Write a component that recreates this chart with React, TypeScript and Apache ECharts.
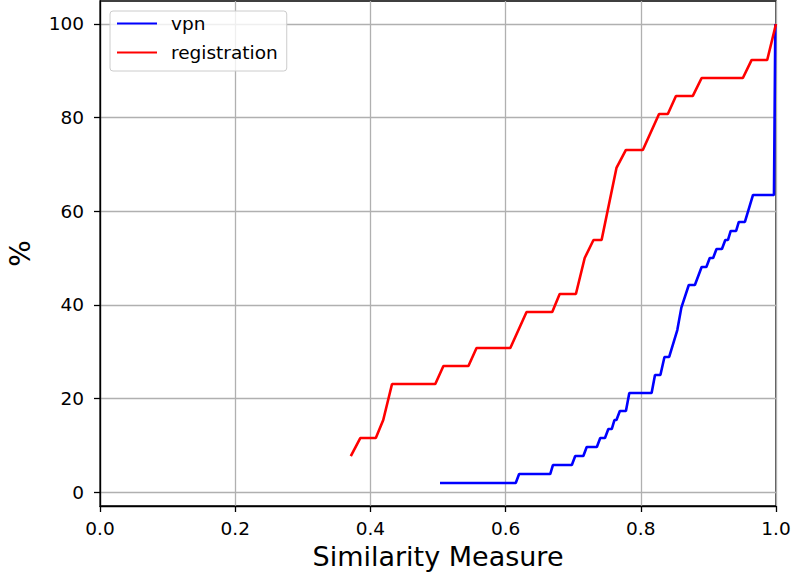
import React, { useEffect, useRef } from "react";
import * as echarts from "echarts";

const vpnX = [0.503, 0.615, 0.620, 0.666, 0.670, 0.698, 0.703, 0.715, 0.720, 0.735, 0.740, 0.747, 0.752, 0.757, 0.761, 0.764, 0.769, 0.778, 0.783, 0.816, 0.821, 0.829, 0.835, 0.842, 0.854, 0.860, 0.871, 0.880, 0.890, 0.897, 0.902, 0.907, 0.912, 0.920, 0.925, 0.929, 0.933, 0.941, 0.945, 0.954, 0.966, 0.997, 0.999];
const vpnY = [1.92, 1.92, 3.85, 3.85, 5.77, 5.77, 7.69, 7.69, 9.62, 9.62, 11.54, 11.54, 13.46, 13.46, 15.38, 15.38, 17.31, 17.31, 21.15, 21.15, 25.0, 25.0, 28.85, 28.85, 34.6, 39.4, 44.23, 44.23, 48.08, 48.08, 50.0, 50.0, 51.92, 51.92, 53.85, 53.85, 55.77, 55.77, 57.69, 57.69, 63.46, 63.46, 100];

const regX = [0.371, 0.385, 0.408, 0.419, 0.432, 0.496, 0.508, 0.545, 0.557, 0.607, 0.631, 0.669, 0.680, 0.704, 0.717, 0.730, 0.742, 0.764, 0.778, 0.803, 0.827, 0.840, 0.852, 0.877, 0.890, 0.951, 0.964, 0.987, 1.0];
const regY = [7.69, 11.54, 11.54, 15.38, 23.08, 23.08, 26.92, 26.92, 30.77, 30.77, 38.46, 38.46, 42.31, 42.31, 50.0, 53.85, 53.85, 69.23, 73.08, 73.08, 80.77, 80.77, 84.62, 84.62, 88.46, 88.46, 92.31, 92.31, 100];

const yTicks = [0, 20, 40, 60, 80, 100];
const seriesNames = ["vpn", "registration"];
const xTitle = "Similarity Measure";
const yTitle = "%";

const FONT = "DejaVu Sans";

export default function App() {
  const ref = useRef<HTMLDivElement>(null);
  useEffect(() => {
    if (!ref.current) return;
    const chart = echarts.init(ref.current, null, { renderer: "svg" });
    const zip = (xs: number[], ys: number[]) => xs.map((x, i) => [x, ys[i]]);
    chart.setOption({
      animation: false,
      backgroundColor: "#ffffff",
      grid: {
        left: 100,
        right: 15,
        top: 1,
        bottom: 67,
        outerBoundsMode: "none",
        containLabel: false,
        show: true,
        borderColor: "#000000",
        borderWidth: 1.3,
        backgroundColor: "transparent",
      },
      legend: {
        left: 110,
        top: 11,
        orient: "vertical",
        data: seriesNames,
        itemWidth: 40,
        itemHeight: 20,
        itemGap: 10,
        padding: [3, 9, 9, 6],
        borderColor: "#cccccc",
        borderWidth: 1,
        borderRadius: 3,
        backgroundColor: "rgba(255,255,255,0.8)",
        itemStyle: { opacity: 0 },
        textStyle: { fontFamily: FONT, fontSize: 18.5, color: "#000", padding: [0, 0, 0, 9] },
      },
      xAxis: {
        type: "value",
        min: 0,
        max: 1,
        interval: 0.2,
        name: xTitle,
        nameLocation: "middle",
        nameGap: 36,
        nameTextStyle: { fontFamily: FONT, fontSize: 27, color: "#000" },
        axisLine: { show: true, onZero: false, lineStyle: { color: "#000", width: 1.3 } },
        axisTick: { show: true, length: 6, lineStyle: { color: "#000", width: 1.3 } },
        axisLabel: {
          fontFamily: FONT,
          fontSize: 18.5,
          color: "#000",
          margin: 13,
          formatter: (v: number) => v.toFixed(1),
        },
        splitLine: { show: true, lineStyle: { color: "#b0b0b0", width: 1.3 } },
      },
      yAxis: {
        type: "value",
        min: -2.98,
        max: 104.9,
        name: yTitle,
        nameLocation: "middle",
        nameRotate: 90,
        nameGap: 66,
        nameTextStyle: { fontFamily: FONT, fontSize: 28, color: "#000" },
        axisLine: { show: true, onZero: false, lineStyle: { color: "#000", width: 1.3 } },
        axisTick: {
          show: true,
          length: 6,
          customValues: yTicks,
          lineStyle: { color: "#000", width: 1.3 },
        },
        axisLabel: {
          fontFamily: FONT,
          fontSize: 18.5,
          color: "#000",
          margin: 16,
          customValues: yTicks,
        },
        splitLine: { show: true, lineStyle: { color: "#b0b0b0", width: 1.3 } },
      },
      series: [
        {
          name: seriesNames[0],
          type: "line",
          data: zip(vpnX, vpnY),
          symbol: "none",
          color: "#0000ff",
          lineStyle: { color: "#0000ff", width: 2.6 },
        },
        {
          name: seriesNames[1],
          type: "line",
          data: zip(regX, regY),
          symbol: "none",
          color: "#ff0000",
          lineStyle: { color: "#ff0000", width: 2.6 },
        },
      ],
    });
    return () => chart.dispose();
  }, []);
  return <div ref={ref} style={{ width: 791, height: 573, position: "absolute", left: 0, top: 0 }} />;
}
